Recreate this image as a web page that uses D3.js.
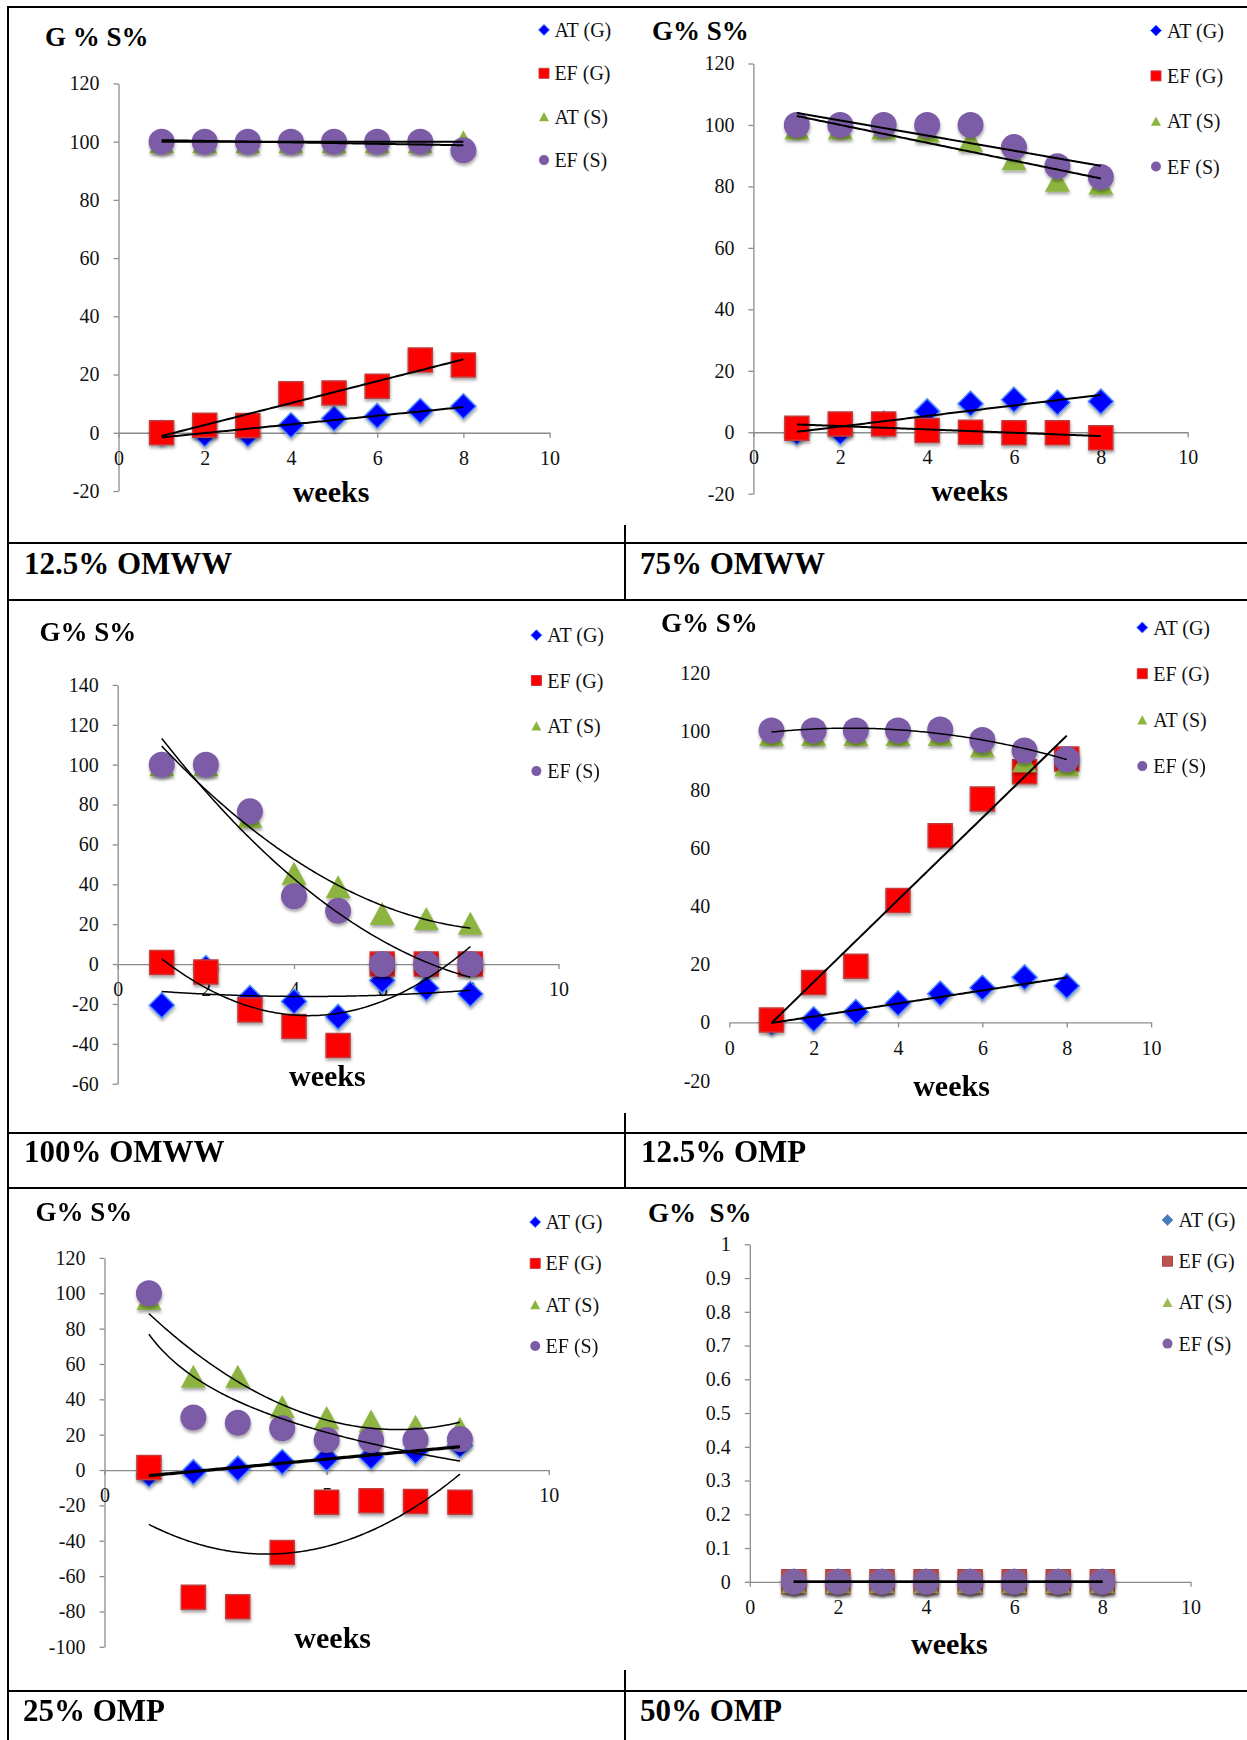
<!DOCTYPE html>
<html>
<head>
<meta charset="utf-8">
<script src="https://cdn.jsdelivr.net/npm/d3@7"></script>
<style>
  body { margin: 0; background: #fff; }
  svg { display: block; }
  text { font-family: "Liberation Serif", "Times New Roman", serif; }
</style>
</head>
<body>
<div id="chart"></div>
<script>
// weeks on the x axis (same for every panel)
const weeks = [1, 2, 3, 4, 5, 6, 7, 8];
const seriesNames = ["AT (G)", "EF (G)", "AT (S)", "EF (S)"];
const panelNames = ["12.5% OMWW", "75% OMWW", "100% OMWW", "12.5% OMP", "25% OMP", "50% OMP"];
const yLabels = ["G % S%", "G% S%", "G% S%", "G% S%", "G% S%", "G%  S%"];

// values, order: AT (G), EF (G), AT (S), EF (S)
const omww125 = [
  [0, -0.5, -0.5, 2.6, 4.9, 5.8, 7.5, 9.1],
  [0, 2.6, 2.5, 13.4, 13.7, 16, 25, 23.3],
  [100, 100, 100, 100, 100, 100, 100, 100],
  [100, 100, 100, 100, 100, 100, 100, 97]
];
const omww75 = [
  [0, 0, 2.8, 6.8, 9.3, 10.6, 9.7, 10],
  [1.3, 2.7, 2.7, 0.6, 0, -0.2, -0.2, -1.8],
  [99, 99, 99, 98, 95, 89, 82, 81],
  [100, 100, 100, 100, 100, 92.8, 86.6, 83.1]
];
const omww100 = [
  [-20.7, -2, -17, -18.8, -26.5, -8.3, -12.1, -15],
  [0.8, -4, -23, -31.3, -40.9, 0, 0, 0],
  [100, 100, 74, 45.5, 38.8, 25.3, 22.8, 20.5],
  [100, 100, 76.6, 34, 26.7, 0, 0, 0]
];
const omp125 = [
  [0, 1.1, 3.6, 6.6, 9.9, 11.9, 15.5, 12.5],
  [0.8, 13.7, 19.3, 41.9, 64.2, 76.8, 86.2, 90.6],
  [99, 99, 99, 99, 99, 95, 90, 88.5],
  [100.4, 100.4, 100.4, 100.4, 100.7, 97.1, 93.5, 90.5]
];
const omp25 = [
  [-2.5, -1.2, 0.8, 4.5, 6.5, 7.5, 10.5, 14],
  [1.4, -71.9, -77.4, -46.7, -18.2, -17.4, -17.8, -18.2],
  [97, 53, 53, 36, 29.7, 27.7, 24.7, 23.6],
  [100, 29.7, 26.7, 23.6, 17, 17, 17, 17.5]
];
const omp50 = [
  [0, 0, 0, 0, 0, 0, 0, 0],
  [0, 0, 0, 0, 0, 0, 0, 0],
  [0, 0, 0, 0, 0, 0, 0, 0],
  [0, 0, 0, 0, 0, 0, 0, 0]
];

// trendline type for each series (as set in the original spreadsheet)
const omww125Trend = ["linear", "linear", "linear", "linear"];
const omww75Trend = ["linear", "linear", "linear", "linear"];
const omww100Trend = ["poly", "poly", "poly", "poly"];
const omp125Trend = ["linear", "linear", null, "poly"];
const omp25Trend = ["linear", "poly", "poly", "log"];
const omp50Trend = ["linear", "linear", "linear", "linear"];

// tick labels
const ticks120 = [-20, 0, 20, 40, 60, 80, 100, 120];
const ticks140 = [-60, -40, -20, 0, 20, 40, 60, 80, 100, 120, 140];
const ticks100 = [-100, -80, -60, -40, -20, 0, 20, 40, 60, 80, 100, 120];
const ticksFrac = [0, 0.1, 0.2, 0.3, 0.4, 0.5, 0.6, 0.7, 0.8, 0.9, 1];
const weekTicks = [0, 2, 4, 6, 8, 10];
const weekTicks5 = [0, 5, 10];

const W = 1247, H = 1740;

const vivid = { fill: ["#0000ff", "#ff0000", "#8db43f", "#7b5ba6"],
                stroke: ["#4d8cff", "#c43a3a", "none", "none"] };
const office = { fill: ["#4a7ebb", "#c0504d", "#9bbb59", "#8064a2"],
                 stroke: ["#6f9ad0", "#a94442", "none", "none"] };

const panels = [
  { data: omww125, trends: omww125Trend, yTicks: ticks120, xTicks: weekTicks, yDom: [-20, 120],
    xPx: [118.5, 549.6], yPx: [491, 83.4], title: [45, 46], weeks: [331, 502],
    legend: [544, 554.4, 29.9, 43.4], foot: [24, 574], pal: vivid, yAxis: true },
  { data: omww75, trends: omww75Trend, yTicks: ticks120, xTicks: weekTicks, yDom: [-20, 120],
    xPx: [753.4, 1187.7], yPx: [493.7, 63.5], title: [652, 40], weeks: [969.5, 501],
    legend: [1156, 1167, 30.6, 45.3], foot: [640, 574], pal: vivid, yAxis: true },
  { data: omww100, trends: omww100Trend, yTicks: ticks140, xTicks: weekTicks, yDom: [-60, 140],
    xPx: [117.7, 558.5], yPx: [1083.7, 684.9], title: [39.4, 640.5], weeks: [327.4, 1085.6],
    legend: [536.4, 547.2, 635.2, 45.3], foot: [24, 1162], pal: vivid, yAxis: true },
  { data: omp125, trends: omp125Trend, yTicks: ticks120, xTicks: weekTicks, yDom: [-20, 120],
    xPx: [729.3, 1151.1], yPx: [1080.6, 673.4], title: [661, 632], weeks: [951.5, 1096],
    legend: [1142.3, 1153.2, 627.5, 46.2], foot: [641, 1162], pal: vivid, yAxis: false },
  { data: omp25, trends: omp25Trend, yTicks: ticks100, xTicks: weekTicks5, yDom: [-100, 120],
    xPx: [104.5, 548.8], yPx: [1646.8, 1257.9], title: [35.4, 1221], weeks: [332.7, 1648],
    legend: [535.2, 545.6, 1222.1, 41.3], foot: [23, 1721], pal: vivid, yAxis: true },
  { data: omp50, trends: omp50Trend, yTicks: ticksFrac, xTicks: weekTicks, yDom: [0, 1],
    xPx: [749.8, 1190.5], yPx: [1581.8, 1244.3], title: [648, 1222], weeks: [949.4, 1654],
    legend: [1167.5, 1178.5, 1220, 41.2], foot: [640, 1721], pal: office, yAxis: true }
];
panels.forEach((p, i) => { p.name = panelNames[i]; p.yLabel = yLabels[i]; });

// marker shapes (size = width squared)
const shapeDiamond = { draw(c, s) { const h = Math.sqrt(s) / 2;
  c.moveTo(0, -h); c.lineTo(h, 0); c.lineTo(0, h); c.lineTo(-h, 0); c.closePath(); } };
const shapeSquare = { draw(c, s) { const h = Math.sqrt(s) / 2; c.rect(-h, -h, 2 * h, 2 * h); } };
const shapeTriangle = { draw(c, s) { const h = Math.sqrt(s) / 2, v = h * 0.92;
  c.moveTo(0, -v); c.lineTo(h, v); c.lineTo(-h, v); c.closePath(); } };
const shapeCircle = { draw(c, s) { const h = Math.sqrt(s) / 2; c.moveTo(h, 0); c.arc(0, 0, h, 0, 2 * Math.PI); } };
const shapes = [shapeDiamond, shapeSquare, shapeTriangle, shapeCircle];
const markSizes = [25 * 25, 24 * 24, 25 * 25, 26 * 26];

// least squares trendline like the spreadsheet's
function trendFn(xs, ys, type) {
  const tx = type === "log" ? xs.map(Math.log) : xs;
  const n = type === "poly" ? 3 : 2;
  const A = d3.range(n).map(() => new Array(n + 1).fill(0));
  tx.forEach((x, k) => {
    const row = d3.range(n).map(j => Math.pow(x, j));
    for (let a = 0; a < n; a++) {
      for (let b = 0; b < n; b++) A[a][b] += row[a] * row[b];
      A[a][n] += row[a] * ys[k];
    }
  });
  for (let i = 0; i < n; i++) {
    let m = i;
    for (let r = i + 1; r < n; r++) if (Math.abs(A[r][i]) > Math.abs(A[m][i])) m = r;
    [A[i], A[m]] = [A[m], A[i]];
    for (let r = 0; r < n; r++) {
      if (r === i || A[i][i] === 0) continue;
      const f = A[r][i] / A[i][i];
      for (let c = i; c <= n; c++) A[r][c] -= f * A[i][c];
    }
  }
  const coef = d3.range(n).map(i => A[i][i] === 0 ? 0 : A[i][n] / A[i][i]);
  return x => {
    const t = type === "log" ? Math.log(x) : x;
    return coef.reduce((s, c, j) => s + c * Math.pow(t, j), 0);
  };
}

// plain hyphen for negatives, like the original
const plain = d => String(d);

const svg = d3.select("#chart").append("svg")
  .attr("width", W).attr("height", H);

const defs = svg.append("defs");
defs.append("filter").attr("id", "shadow")
  .attr("x", "-50%").attr("y", "-50%").attr("width", "200%").attr("height", "200%")
  .append("feDropShadow")
  .attr("dx", 0.5).attr("dy", 2.5).attr("stdDeviation", 1.8)
  .attr("flood-color", "#000").attr("flood-opacity", 0.35);

// table frame
const frame = svg.append("g").attr("stroke", "#000").attr("stroke-width", 2);
frame.append("line").attr("x1", 8).attr("x2", W).attr("y1", 7).attr("y2", 7);
frame.append("line").attr("x1", 8).attr("x2", 8).attr("y1", 6).attr("y2", H);
[543, 600, 1133, 1188, 1691].forEach(y =>
  frame.append("line").attr("x1", 8).attr("x2", W).attr("y1", y).attr("y2", y));
[[525, 600], [1113, 1188], [1670, H]].forEach(s =>
  frame.append("line").attr("x1", 625).attr("x2", 625).attr("y1", s[0]).attr("y2", s[1]));

panels.forEach(p => {
  const g = svg.append("g");
  const x = d3.scaleLinear().domain([0, 10]).range(p.xPx);
  const y = d3.scaleLinear().domain(p.yDom).range(p.yPx);

  // y axis
  const yAxis = g.append("g").attr("transform", `translate(${p.xPx[0]},0)`)
    .call(d3.axisLeft(y).tickValues(p.yTicks).tickSize(p.yAxis ? 5 : 0).tickSizeOuter(0)
      .tickPadding(p.yAxis ? 14 : 19).tickFormat(plain));
  yAxis.select(".domain").attr("stroke", p.yAxis ? "#8c8c8c" : "none").attr("stroke-width", 1.3);
  yAxis.selectAll(".tick line").attr("stroke", "#8c8c8c").attr("stroke-width", 1.3);
  yAxis.selectAll("text").attr("font-family", "Liberation Serif").attr("font-size", 20).attr("fill", "#111");

  // x axis on the zero line
  const xAxis = g.append("g").attr("transform", `translate(0,${y(0)})`)
    .call(d3.axisBottom(x).tickValues(p.xTicks).tickSize(5).tickSizeOuter(0).tickPadding(13)
      .tickFormat(plain));
  xAxis.select(".domain").attr("stroke", "#8c8c8c").attr("stroke-width", 1.3);
  xAxis.selectAll(".tick line").attr("stroke", "#8c8c8c").attr("stroke-width", 1.3);
  xAxis.selectAll("text").attr("font-family", "Liberation Serif").attr("font-size", 20).attr("fill", "#111");

  // markers, one series after another
  p.data.forEach((vals, si) => {
    g.append("g").attr("filter", "url(#shadow)")
      .selectAll("path").data(vals).join("path")
      .attr("transform", (d, k) => `translate(${x(weeks[k])},${y(d)})`)
      .attr("d", d3.symbol().type(shapes[si]).size(markSizes[si]))
      .attr("fill", p.pal.fill[si])
      .attr("stroke", p.pal.stroke[si])
      .attr("stroke-width", 1.5);
  });

  // trendlines on top
  const xs = d3.range(1, 8.0001, 0.05);
  p.data.forEach((vals, si) => {
    const type = p.trends[si];
    if (!type) return;
    const f = trendFn(weeks, vals, type);
    const thick = (p.name === "25% OMP" && si === 0) ? 3.2 : (type === "linear" ? 2 : 1.5);
    g.append("path").datum(xs)
      .attr("d", d3.line().x(d => x(d)).y(d => y(f(d))))
      .attr("fill", "none").attr("stroke", "#000").attr("stroke-width", thick);
  });

  // axis titles
  g.append("text").attr("x", p.title[0]).attr("y", p.title[1])
    .attr("font-size", 27).attr("font-weight", "bold").style("white-space", "pre")
    .text(p.yLabel);
  g.append("text").attr("x", p.weeks[0]).attr("y", p.weeks[1])
    .attr("text-anchor", "middle").attr("font-size", 30).attr("font-weight", "bold")
    .text("weeks");

  // legend
  const lg = g.append("g");
  seriesNames.forEach((name, si) => {
    const ry = p.legend[2] + si * p.legend[3];
    lg.append("path").attr("transform", `translate(${p.legend[0]},${ry})`)
      .attr("d", d3.symbol().type(shapes[si]).size(si === 0 ? 121 : 100))
      .attr("fill", p.pal.fill[si])
      .attr("stroke", p.pal.stroke[si]).attr("stroke-width", 1);
    lg.append("text").attr("x", p.legend[1]).attr("y", ry).attr("dy", "0.35em")
      .attr("font-size", 20).attr("fill", "#111").text(name);
  });

  // panel caption in the table row
  svg.append("text").attr("x", p.foot[0]).attr("y", p.foot[1])
    .attr("font-size", 31).attr("font-weight", "bold").text(p.name);
});
</script>
</body>
</html>
